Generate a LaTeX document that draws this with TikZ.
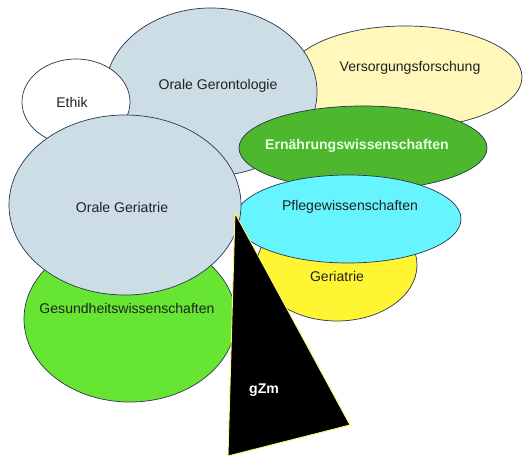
\documentclass[tikz,border=0pt]{standalone}
\usepackage{fontspec}
\setmainfont{Liberation Sans}
\usetikzlibrary{shapes.geometric}
\definecolor{gerblue}{HTML}{CCDDE6}
\definecolor{versgelb}{HTML}{FFF8BA}
\definecolor{ernaehrgruen}{HTML}{4DB82E}
\definecolor{pflegecyan}{HTML}{66F5FF}
\definecolor{geriatriegelb}{HTML}{FFF533}
\definecolor{gesundgruen}{HTML}{66E633}
\definecolor{randblau}{HTML}{2A3550}
\definecolor{schrift}{HTML}{222222}
\tikzset{
    blob/.style 2 args={ellipse, draw=randblau, line width=0.6pt, inner sep=0pt,
        minimum width=#1*0.8536pt, minimum height=#2*0.8536pt},
    label/.style={text=schrift, font=\fontsize{12}{14}\selectfont}
}
\begin{document}
\begin{tikzpicture}[x=0.03cm,y=-0.03cm]
        \useasboundingbox (0,0) rectangle (525,456);

        % hintere Ebene
        \node[blob={234}{102}, fill=versgelb] (vers) at (405,77) {};
        \node[blob={212}{168}, fill=gerblue] (geront) at (211,92) {};
        \node[blob={108}{86}, fill=white] (ethik) at (76,102) {};
        \node[blob={248}{84}, fill=ernaehrgruen] (ernaehr) at (363,148) {};
        \node[blob={160}{112}, fill=geriatriegelb] (geriatrie) at (337,265) {};
        \node[blob={226}{88}, fill=pflegecyan] (pflege) at (348,219) {};
        \node[blob={212}{166}, fill=gesundgruen] (gesund) at (130,319) {};
        \node[blob={232}{180}, fill=gerblue] (oger) at (125,205) {};

        % Dreieck
        \coordinate (spitze) at (235,213);
        \coordinate (unten) at (228,456);
        \coordinate (rechts) at (350,425);
        \draw[fill=black, draw=geriatriegelb!70!white, line width=0.8pt] (spitze) -- (rechts) -- (unten) -- cycle;

        % Beschriftungen
        \node[label] at (410,68) {Versorgungsforschung};
        \node[label] at (218,86) {Orale Gerontologie};
        \node[label] at (72,102) {Ethik};
        \node[label, text=white!90!green, font=\fontsize{12}{14}\selectfont\bfseries] at (357,146) {Ernährungswissenschaften};
        \node[label] at (350,207) {Pflegewissenschaften};
        \node[label] at (337,276) {Geriatrie};
        \node[label] at (127,308) {Gesundheitswissenschaften};
        \node[label] at (122,207) {Orale Geriatrie};
        \node[label, text=white, font=\fontsize{12}{14}\selectfont\bfseries] at (264,390) {gZm};

\end{tikzpicture}
\end{document}
